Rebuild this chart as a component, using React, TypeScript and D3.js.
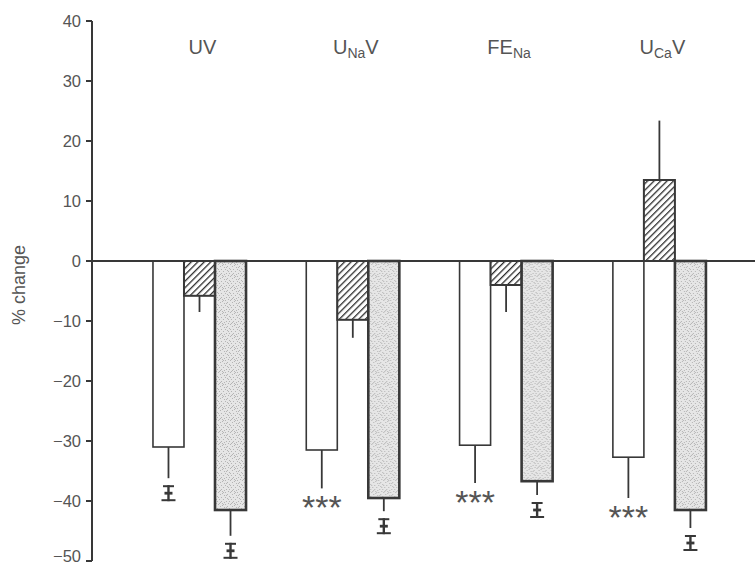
import React from "react";
import * as d3 from "d3";

const categories = ["UV", "UNaV", "FENa", "UCaV"];
const labelMain = ["UV", "U", "FE", "U"];
const labelSub = ["", "Na", "Na", "Ca"];
const labelTail = ["", "V", "", "V"];

const seriesKeys = ["control", "hatched", "stippled"];
const controlValues = [-31, -31.5, -30.7, -32.7];
const controlErr = [5.2, 6.4, 6.3, 6.8];
const hatchedValues = [-5.8, -9.8, -4.0, 13.5];
const hatchedErr = [2.7, 3.0, 4.5, 9.9];
const stippledValues = [-41.5, -39.5, -36.7, -41.5];
const stippledErr = [4.3, 2.2, 2.3, 3.0];

// significance markers: "dagger" = I-shaped symbol, "stars" = ***
const controlMarks = ["dagger", "stars", "stars", "stars"];
const stippledMarks = ["dagger", "dagger", "dagger", "dagger"];

const yTicks = [40, 30, 20, 10, 0, -10, -20, -30, -40, -50];

const W = 755;
const H = 567;
const INK = "#383838";
const TXT = "#555";
const FONT = "'Liberation Sans', Arial, Helvetica, sans-serif";

// fixed texture dot layout for the stipple pattern (12x12 tile)
const stippleDots: [number, number][] = [
  [0, 0], [5, 0], [9, 1], [2, 2], [7, 2], [11, 3], [4, 4], [0, 5], [8, 5],
  [2, 6], [6, 7], [10, 7], [1, 9], [4, 9], [8, 9], [11, 10], [3, 11], [6, 11],
  [9, 11], [5, 5], [10, 0], [1, 3], [7, 10], [3, 7],
];

export default function App() {
  const y = d3.scaleLinear().domain([-50, 40]).range([561, 21]);
  const x0 = d3
    .scaleBand<string>()
    .domain(categories)
    .range([122.85, 736.05])
    .paddingInner(0.393)
    .paddingOuter(0.1965);
  const x1 = d3
    .scaleBand<string>()
    .domain(seriesKeys)
    .range([0, x0.bandwidth()])
    .padding(0);

  const series = [
    { key: "control", values: controlValues, err: controlErr, fill: "#fff", sw: 1.6, marks: controlMarks },
    { key: "hatched", values: hatchedValues, err: hatchedErr, fill: "url(#hatch)", sw: 2, marks: null },
    { key: "stippled", values: stippledValues, err: stippledErr, fill: "url(#stipple)", sw: 2.6, marks: stippledMarks },
  ];

  const axisX = 92;

  const dagger = (cx: number, top: number) => {
    const h = 16;
    return (
      <g stroke={INK} fill="none">
        <line x1={cx - 5.5} x2={cx + 5.5} y1={top + 1} y2={top + 1} strokeWidth={2} />
        <line x1={cx} x2={cx} y1={top} y2={top + h} strokeWidth={2.4} />
        <line x1={cx - 4} x2={cx + 4} y1={top + h * 0.5} y2={top + h * 0.5} strokeWidth={2.8} />
        <line x1={cx - 7} x2={cx + 7} y1={top + h - 1} y2={top + h - 1} strokeWidth={2} />
      </g>
    );
  };

  return (
    <svg width={W} height={H} style={{ position: "absolute", left: 0, top: 0, background: "#fff" }}>
      <defs>
        <pattern id="hatch" patternUnits="userSpaceOnUse" width={4.6} height={4.6} patternTransform="rotate(45)">
          <rect width={4.6} height={4.6} fill="#fff" />
          <line x1={0} y1={0} x2={0} y2={4.6} stroke="#2e2e2e" strokeWidth={2.6} />
        </pattern>
        <pattern id="stipple" patternUnits="userSpaceOnUse" width={12} height={12}>
          <rect width={12} height={12} fill="#e6e6e6" />
          {stippleDots.map(([dx, dy], i) => (
            <rect key={i} x={dx} y={dy} width={1} height={1} fill="#8a8a8a" opacity={0.55} />
          ))}
        </pattern>
      </defs>

      {/* y axis */}
      <line x1={axisX} x2={axisX} y1={y(40)} y2={y(-50)} stroke={INK} strokeWidth={2} />
      {yTicks.map((t) => (
        <g key={t}>
          <line x1={axisX - 6} x2={axisX} y1={y(t)} y2={y(t)} stroke={INK} strokeWidth={2} />
          <text
            x={axisX - 11}
            y={t === -50 ? y(t) - 5 : y(t)}
            dy="0.36em"
            textAnchor="end"
            fontFamily={FONT}
            fontSize={16.5}
            fill={TXT}
          >
            {t < 0 ? "\u2212" + Math.abs(t) : String(t)}
          </text>
        </g>
      ))}
      <text
        transform={`translate(25, ${y(-4)}) rotate(-90)`}
        textAnchor="middle"
        fontFamily={FONT}
        fontSize={18}
        fill={TXT}
      >
        % change
      </text>

      {/* bars */}
      {categories.map((c, ci) => (
        <g key={c} transform={`translate(${x0(c)},0)`}>
          {series.map((s) => {
            const v = s.values[ci];
            const bx = x1(s.key)!;
            const bw = x1.bandwidth();
            const top = Math.min(y(v), y(0));
            const h = Math.abs(y(v) - y(0));
            const errEnd = v < 0 ? v - s.err[ci] : v + s.err[ci];
            const cx = bx + bw / 2;
            const mark = s.marks ? s.marks[ci] : null;
            const markTop = y(errEnd) + 7;
            return (
              <g key={s.key}>
                <line x1={cx} x2={cx} y1={y(v)} y2={y(errEnd)} stroke={INK} strokeWidth={1.8} />
                <rect x={bx} y={top} width={bw} height={h} fill={s.fill} stroke={INK} strokeWidth={s.sw} />
                {mark === "dagger" && dagger(cx, markTop)}
                {mark === "stars" && (
                  <text
                    x={cx}
                    y={markTop + 24}
                    textAnchor="middle"
                    fontFamily={FONT}
                    fontSize={34}
                    fill={TXT}
                  >
                    ***
                  </text>
                )}
              </g>
            );
          })}
          <text
            x={x0.bandwidth() / 2 + 3}
            y={54}
            textAnchor="middle"
            fontFamily={FONT}
            fontSize={20}
            fill={TXT}
          >
            {labelMain[ci]}
            {labelSub[ci] && (
              <tspan fontSize={14} dy={4}>
                {labelSub[ci]}
              </tspan>
            )}
            {labelTail[ci] && <tspan dy={-4}>{labelTail[ci]}</tspan>}
          </text>
        </g>
      ))}

      {/* zero line */}
      <line x1={axisX} x2={W} y1={y(0)} y2={y(0)} stroke={INK} strokeWidth={1.8} />
    </svg>
  );
}
